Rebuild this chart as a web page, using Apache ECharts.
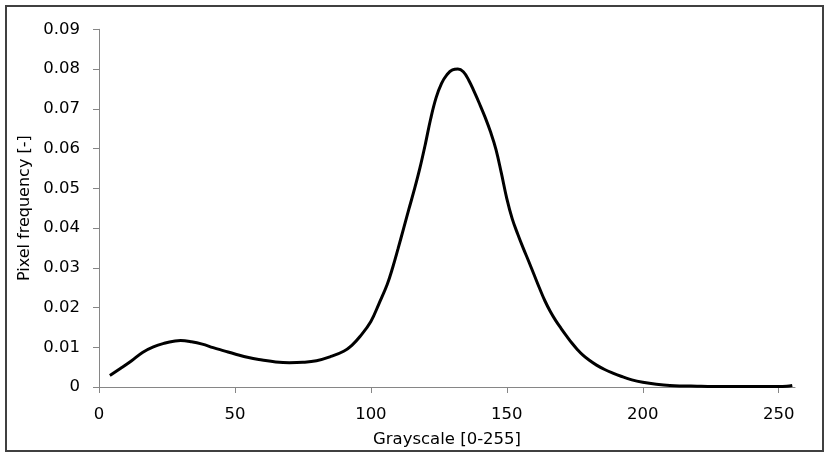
<!DOCTYPE html>
<html>
<head>
<meta charset="utf-8">
<script src="https://cdn.jsdelivr.net/npm/echarts@6/dist/echarts.min.js"></script>
<style>
  html, body { margin: 0; padding: 0; background: #fff; }
  #chart { width: 824px; height: 453px; }
</style>
</head>
<body>
<div id="chart"></div>
<script>
// Grey level histogram of the image (normalised pixel counts)
const grayLevels = [
  4, 8, 12, 16, 20, 24, 28, 30, 34, 38, 42, 46, 50, 55, 60, 65, 70, 75, 80, 85,
  90, 93, 96, 100, 103, 106, 108, 110, 112, 114, 116, 118, 120, 122, 124, 126, 128, 130, 132, 134,
  136, 138, 140, 142, 144, 146, 148, 150, 152, 154, 156, 158, 160, 162, 164, 166, 168, 170, 172, 174,
  176, 178, 180, 183, 186, 189, 192, 196, 200, 205, 210, 220, 230, 240, 250, 253, 255
];
const pixelFrequency = [
  0.0029, 0.0047, 0.0066, 0.0087, 0.0101, 0.0110, 0.0116, 0.0117, 0.0114, 0.0108,
  0.0099, 0.0091, 0.0083, 0.0074, 0.0068, 0.0063, 0.0061, 0.0062, 0.0066, 0.0076,
  0.0090, 0.0105, 0.0127, 0.0165, 0.0210, 0.0258, 0.0300, 0.0348, 0.0398, 0.0448,
  0.0497, 0.0550, 0.0610, 0.0675, 0.0728, 0.0764, 0.0786, 0.0798, 0.0800, 0.0793,
  0.0772, 0.0743, 0.0712, 0.0679, 0.0642, 0.0598, 0.0538, 0.0474, 0.0423, 0.0385,
  0.0350, 0.0317, 0.0283, 0.0249, 0.0217, 0.0190, 0.0167, 0.0147, 0.0128, 0.0110,
  0.0094, 0.0080, 0.0069, 0.0055, 0.0044, 0.0035, 0.0027, 0.0018, 0.0012, 0.0007,
  0.0004, 0.0002, 0.0001, 0.0001, 0.0001, 0.0002, 0.0004
];
const xTickValues = [0, 50, 100, 150, 200, 250];

const axisGrey = '#868686';
const textColor = '#000000';
const fontFamily = '"DejaVu Sans", Verdana, sans-serif';

const chart = echarts.init(document.getElementById('chart'), null, { renderer: 'canvas' });

chart.setOption({
  animation: false,
  backgroundColor: '#ffffff',
  graphic: [{
    type: 'rect',
    shape: { x: 6, y: 6, width: 817, height: 445 },
    style: { fill: 'none', stroke: '#404040', lineWidth: 2 },
    silent: true
  }],
  grid: { left: 99, right: 29, top: 29.3, bottom: 64.7 },
  xAxis: {
    type: 'value',
    min: 0,
    max: 256,
    name: 'Grayscale [0-255]',
    nameLocation: 'middle',
    nameGap: 44,
    nameTextStyle: { color: textColor, fontSize: 16.5, fontFamily },
    axisLine: { show: true, onZero: false, lineStyle: { color: axisGrey, width: 1 } },
    axisTick: { show: true, length: 6, customValues: xTickValues, lineStyle: { color: axisGrey } },
    axisLabel: { customValues: xTickValues, margin: 19, color: textColor, fontSize: 16.5, fontFamily },
    splitLine: { show: false }
  },
  yAxis: {
    type: 'value',
    min: 0,
    max: 0.09,
    interval: 0.01,
    name: 'Pixel frequency [-]',
    nameLocation: 'middle',
    nameGap: 66,
    nameTextStyle: { color: textColor, fontSize: 16, fontFamily },
    axisLine: { show: true, lineStyle: { color: axisGrey, width: 1 } },
    axisTick: { show: true, length: 6, lineStyle: { color: axisGrey } },
    axisLabel: { margin: 19, color: textColor, fontSize: 16.5, fontFamily },
    splitLine: { show: false }
  },
  series: [{
    type: 'line',
    data: grayLevels.map((g, i) => [g, pixelFrequency[i]]),
    smooth: 0.4,
    showSymbol: false,
    lineStyle: { color: '#000000', width: 3 },
    itemStyle: { color: '#000000' }
  }]
});
</script>
</body>
</html>
